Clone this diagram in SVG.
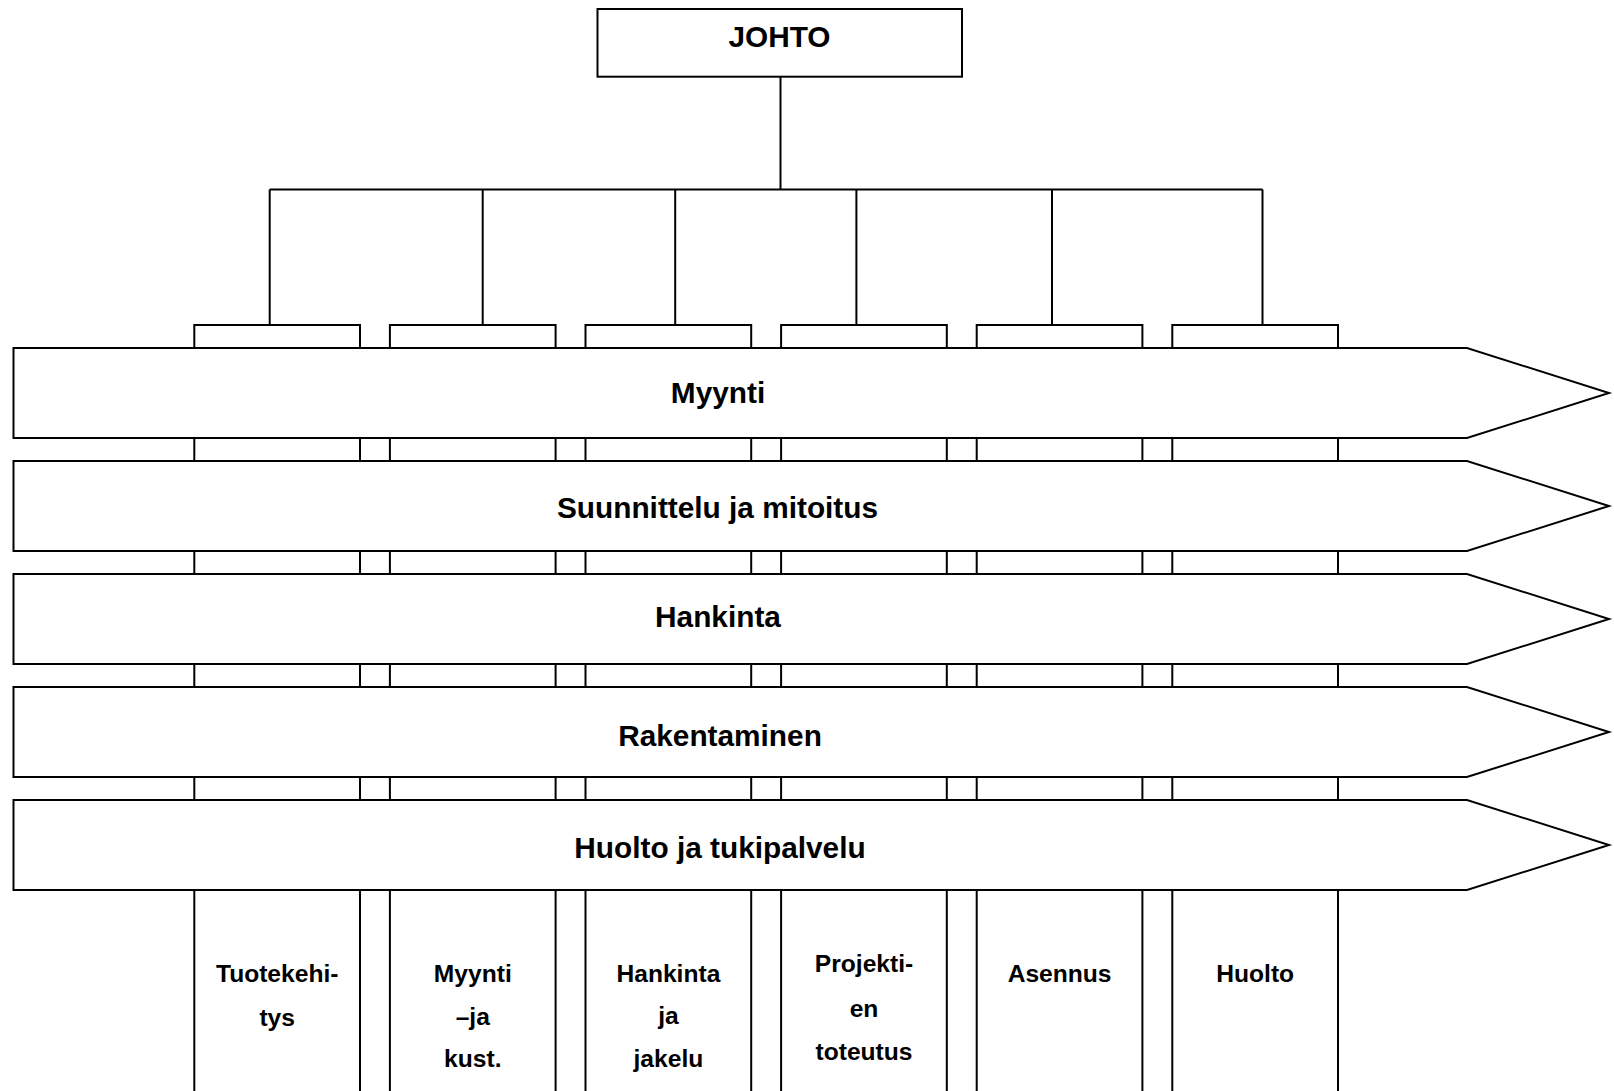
<svg xmlns="http://www.w3.org/2000/svg" width="1614" height="1091" viewBox="0 0 1614 1091">
<style>
.ln{fill:none;stroke:#000;stroke-width:2}
.box{fill:#fff;stroke:#000;stroke-width:2}
.t{font-family:"Liberation Sans",Arial,sans-serif;font-weight:bold;fill:#000;text-anchor:middle}
.big{font-size:29.8px}
.sm{font-size:24.6px}
</style>
<rect width="1614" height="1091" fill="#fff"/>
<g id="connectors">
<path class="ln" d="M780.5,76.7V189.5M269.7,189.5H1262.5M269.7,189.5V325M482.7,189.5V325M675.2,189.5V325M856.4,189.5V325M1052,189.5V325M1262.5,189.5V325"/>
</g>
<g id="johto">
<rect class="box" x="597.5" y="9" width="364.5" height="67.7"/>
<text class="t big" x="779.5" y="46.5">JOHTO</text>
</g>
<g id="col1"><rect class="box" x="194.3" y="325" width="165.7" height="780"/></g>
<g id="col2"><rect class="box" x="389.9" y="325" width="165.7" height="780"/></g>
<g id="col3"><rect class="box" x="585.5" y="325" width="165.7" height="780"/></g>
<g id="col4"><rect class="box" x="781.1" y="325" width="165.7" height="780"/></g>
<g id="col5"><rect class="box" x="976.7" y="325" width="165.7" height="780"/></g>
<g id="col6"><rect class="box" x="1172.3" y="325" width="165.7" height="780"/></g>
<g id="band1">
<polygon class="box" points="13.5,348 1467,348 1609,393 1467,438 13.5,438"/>
<text class="t big" x="718" y="403.3">Myynti</text>
</g>
<g id="band2">
<polygon class="box" points="13.5,461 1467,461 1609,506 1467,551 13.5,551"/>
<text class="t big" x="717.5" y="518.3">Suunnittelu ja mitoitus</text>
</g>
<g id="band3">
<polygon class="box" points="13.5,574 1467,574 1609,619 1467,664 13.5,664"/>
<text class="t big" x="718" y="626.7">Hankinta</text>
</g>
<g id="band4">
<polygon class="box" points="13.5,687 1467,687 1609,732 1467,777 13.5,777"/>
<text class="t big" x="720" y="746">Rakentaminen</text>
</g>
<g id="band5">
<polygon class="box" points="13.5,800 1467,800 1609,845 1467,890 13.5,890"/>
<text class="t big" x="720" y="857.7">Huolto ja tukipalvelu</text>
</g>
<g id="labels">
<text class="t sm" x="277.2" y="981.7">Tuotekehi-</text>
<text class="t sm" x="277.2" y="1025.5">tys</text>
<text class="t sm" x="472.8" y="981.7">Myynti</text>
<text class="t sm" x="472.8" y="1025">–ja</text>
<text class="t sm" x="472.8" y="1066.7">kust.</text>
<text class="t sm" x="668.4" y="981.7">Hankinta</text>
<text class="t sm" x="668.4" y="1024">ja</text>
<text class="t sm" x="668.4" y="1067">jakelu</text>
<text class="t sm" x="864" y="971.7">Projekti-</text>
<text class="t sm" x="864" y="1016.7">en</text>
<text class="t sm" x="864" y="1060">toteutus</text>
<text class="t sm" x="1059.6" y="981.7">Asennus</text>
<text class="t sm" x="1255.2" y="981.7">Huolto</text>
</g>
</svg>
